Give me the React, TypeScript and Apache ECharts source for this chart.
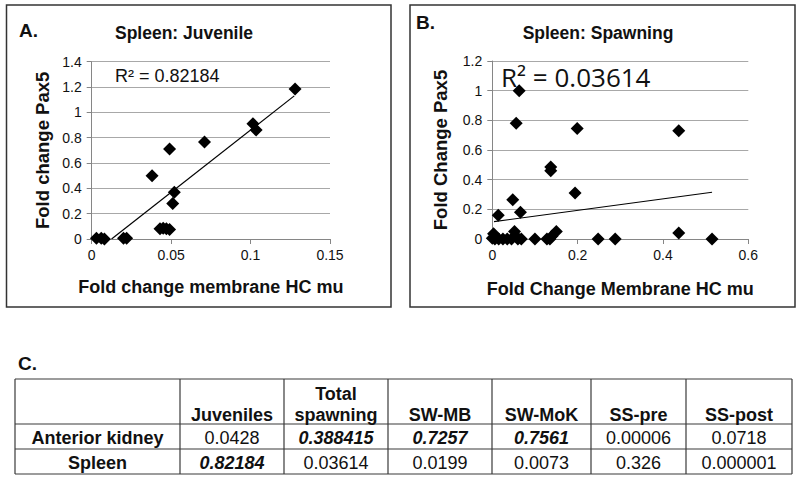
import React, { useEffect, useRef } from "react";
import * as echarts from "echarts";

// ---- Panel A: Spleen, juvenile ----
const juvenileMembraneHC = [0.003, 0.006, 0.008, 0.02, 0.022, 0.038, 0.043, 0.045, 0.047, 0.049, 0.049, 0.051, 0.052, 0.071, 0.1015, 0.1035, 0.128];
const juvenilePax5 = [0.005, 0.005, 0.0, 0.005, 0.005, 0.5, 0.08, 0.085, 0.08, 0.075, 0.71, 0.28, 0.37, 0.765, 0.91, 0.86, 1.185];
const juvenileTrendX = [0.0125, 0.1275];
const juvenileTrendY = [0, 1.13];
const juvenileXTicks = [0, 0.05, 0.1, 0.15];
const juvenileYTicks = [0, 0.2, 0.4, 0.6, 0.8, 1, 1.2, 1.4];
const juvenileR2 = "R² = 0.82184";

// ---- Panel B: Spleen, spawning ----
const spawningMembraneHC = [0.0, 0.003, 0.006, 0.015, 0.025, 0.035, 0.045, 0.052, 0.055, 0.06, 0.068, 0.1, 0.128, 0.135, 0.14, 0.15, 0.248, 0.288, 0.437, 0.515, 0.014, 0.048, 0.066, 0.056, 0.063, 0.137, 0.137, 0.194, 0.199, 0.437];
const spawningPax5 = [0.005, 0.035, 0.0, 0.0, 0.0, 0.0, 0.0, 0.05, 0.02, 0.0, 0.0, 0.0, 0.0, 0.0, 0.02, 0.05, 0.0, 0.0, 0.04, 0.0, 0.16, 0.265, 0.18, 0.78, 1.0, 0.485, 0.46, 0.31, 0.745, 0.73];
const spawningTrendX = [0.004, 0.515];
const spawningTrendY = [0.117, 0.315];
const spawningXTicks = [0, 0.2, 0.4, 0.6];
const spawningYTicks = [0, 0.2, 0.4, 0.6, 0.8, 1, 1.2];
const spawningR2 = "R² = 0.03614";

// ---- Panel C: table of R² values ----
const tableColumns = ["Juveniles", "Total\nspawning", "SW-MB", "SW-MoK", "SS-pre", "SS-post"];
const tableRowLabels = ["Anterior kidney", "Spleen"];
const anteriorKidneyR2 = ["0.0428", "0.388415", "0.7257", "0.7561", "0.00006", "0.0718"];
const spleenR2 = ["0.82184", "0.03614", "0.0199", "0.0073", "0.326", "0.000001"];
const anteriorKidneyHighlight = [false, true, true, true, false, false];
const spleenHighlight = [true, false, false, false, false, false];

const FONT = "Liberation Sans";
const AXIS_COLOR = "#868686";
const GRID_COLOR = "#a8a8a8";
const TEXT_COLOR = "#111111";

function pairs(xs: number[], ys: number[]) {
  return xs.map((x, i) => [x, ys[i]]);
}

function makeXAxis(gridIndex: number, ticks: number[], name: string, nameGap: number) {
  return {
    type: "value",
    gridIndex,
    min: ticks[0],
    max: ticks[ticks.length - 1],
    interval: ticks[1] - ticks[0],
    name,
    nameLocation: "middle",
    nameGap,
    nameTextStyle: { fontFamily: FONT, fontSize: 18, fontWeight: "bold", color: TEXT_COLOR },
    axisLine: { show: true, onZero: false, lineStyle: { color: AXIS_COLOR, width: 1 } },
    axisTick: { show: true, length: 5, lineStyle: { color: AXIS_COLOR } },
    axisLabel: { fontFamily: FONT, fontSize: 14, color: TEXT_COLOR, margin: 9 },
    splitLine: { show: false },
  };
}

function makeYAxis(gridIndex: number, ticks: number[], name: string, nameGap: number) {
  return {
    type: "value",
    gridIndex,
    min: ticks[0],
    max: ticks[ticks.length - 1],
    interval: ticks[1] - ticks[0],
    name,
    nameLocation: "middle",
    nameGap,
    nameTextStyle: { fontFamily: FONT, fontSize: 18.5, fontWeight: "bold", color: TEXT_COLOR },
    axisLine: { show: true, onZero: false, lineStyle: { color: AXIS_COLOR, width: 1 } },
    axisTick: { show: true, length: 5, lineStyle: { color: AXIS_COLOR } },
    axisLabel: { fontFamily: FONT, fontSize: 14, color: TEXT_COLOR, margin: 10 },
    splitLine: { show: true, lineStyle: { color: GRID_COLOR, width: 1 } },
  };
}

function buildTable() {
  const colEdges = [15, 180, 284, 388, 492, 591, 686, 792];
  const rowEdges = [379, 424, 449, 474];
  const els: any[] = [];
  const lineStyle = { stroke: "#3a3a3a", lineWidth: 1.2 };
  rowEdges.forEach((y) => {
    els.push({ type: "line", shape: { x1: colEdges[0], y1: y, x2: colEdges[colEdges.length - 1], y2: y }, style: lineStyle });
  });
  colEdges.forEach((x) => {
    els.push({ type: "line", shape: { x1: x, y1: rowEdges[0], x2: x, y2: rowEdges[rowEdges.length - 1] }, style: lineStyle });
  });
  tableColumns.forEach((label, i) => {
    els.push({
      type: "text",
      x: (colEdges[i + 1] + colEdges[i + 2]) / 2,
      y: rowEdges[1] + 1,
      style: {
        text: label,
        fontFamily: FONT,
        fontSize: 18,
        fontWeight: "bold",
        fill: TEXT_COLOR,
        align: "center",
        verticalAlign: "bottom",
        lineHeight: 21,
      },
    });
  });
  const rows = [anteriorKidneyR2, spleenR2];
  const highlights = [anteriorKidneyHighlight, spleenHighlight];
  tableRowLabels.forEach((label, r) => {
    const cy = (rowEdges[r + 1] + rowEdges[r + 2]) / 2 + 1;
    els.push({
      type: "text",
      x: (colEdges[0] + colEdges[1]) / 2,
      y: cy,
      style: { text: label, fontFamily: FONT, fontSize: 18, fontWeight: "bold", fill: TEXT_COLOR, align: "center", verticalAlign: "middle" },
    });
    rows[r].forEach((val, c) => {
      const hi = highlights[r][c];
      els.push({
        type: "text",
        x: (colEdges[c + 1] + colEdges[c + 2]) / 2,
        y: cy,
        style: {
          text: val,
          fontFamily: FONT,
          fontSize: 18,
          fontWeight: hi ? "bold" : "normal",
          fontStyle: hi ? "italic" : "normal",
          fill: TEXT_COLOR,
          align: "center",
          verticalAlign: "middle",
        },
      });
    });
  });
  return els;
}

export default function App() {
  const ref = useRef<HTMLDivElement>(null);
  useEffect(() => {
    if (!ref.current) return;
    const chart = echarts.init(ref.current, null, { renderer: "svg", width: 800, height: 480 });
    const scatterStyle = { color: "#000000", opacity: 1 };
    const option: any = {
      animation: false,
      backgroundColor: "#ffffff",
      textStyle: { fontFamily: FONT },
      grid: [
        { left: 91.7, top: 61.7, width: 238.3, height: 177.3 },
        { left: 492.3, top: 61, width: 256, height: 178 },
      ],
      xAxis: [
        makeXAxis(0, juvenileXTicks, "Fold change membrane HC mu", 39),
        makeXAxis(1, spawningXTicks, "Fold Change Membrane HC mu", 41),
      ],
      yAxis: [
        makeYAxis(0, juvenileYTicks, "Fold change Pax5", 40),
        makeYAxis(1, spawningYTicks, "Fold Change Pax5", 42),
      ],
      series: [
        {
          type: "scatter",
          xAxisIndex: 0,
          yAxisIndex: 0,
          data: pairs(juvenileMembraneHC, juvenilePax5),
          symbol: "diamond",
          symbolSize: 13,
          itemStyle: scatterStyle,
          silent: true,
        },
        {
          type: "line",
          xAxisIndex: 0,
          yAxisIndex: 0,
          data: pairs(juvenileTrendX, juvenileTrendY),
          showSymbol: false,
          symbol: "none",
          lineStyle: { color: "#000000", width: 1.2 },
          silent: true,
        },
        {
          type: "scatter",
          xAxisIndex: 1,
          yAxisIndex: 1,
          data: pairs(spawningMembraneHC, spawningPax5),
          symbol: "diamond",
          symbolSize: 13,
          itemStyle: scatterStyle,
          silent: true,
        },
        {
          type: "line",
          xAxisIndex: 1,
          yAxisIndex: 1,
          data: pairs(spawningTrendX, spawningTrendY),
          showSymbol: false,
          symbol: "none",
          lineStyle: { color: "#000000", width: 1.2 },
          silent: true,
        },
      ],
      graphic: [
        { type: "rect", shape: { x: 6.5, y: 5, width: 384.5, height: 302 }, style: { fill: "none", stroke: "#333333", lineWidth: 1.5 }, silent: true },
        { type: "rect", shape: { x: 410, y: 5, width: 385, height: 302 }, style: { fill: "none", stroke: "#333333", lineWidth: 1.5 }, silent: true },
        { type: "text", x: 19, y: 30, style: { text: "A.", fontFamily: FONT, fontSize: 19, fontWeight: "bold", fill: TEXT_COLOR, verticalAlign: "middle" } },
        { type: "text", x: 416, y: 22, style: { text: "B.", fontFamily: FONT, fontSize: 19, fontWeight: "bold", fill: TEXT_COLOR, verticalAlign: "middle" } },
        { type: "text", x: 18, y: 363, style: { text: "C.", fontFamily: FONT, fontSize: 19, fontWeight: "bold", fill: TEXT_COLOR, verticalAlign: "middle" } },
        { type: "text", x: 184, y: 33, style: { text: "Spleen: Juvenile", fontFamily: FONT, fontSize: 17.5, fontWeight: "bold", fill: TEXT_COLOR, align: "center", verticalAlign: "middle" } },
        { type: "text", x: 598, y: 33, style: { text: "Spleen: Spawning", fontFamily: FONT, fontSize: 17.5, fontWeight: "bold", fill: TEXT_COLOR, align: "center", verticalAlign: "middle" } },
        { type: "text", x: 115, y: 76, style: { text: juvenileR2, fontFamily: FONT, fontSize: 18, fill: TEXT_COLOR, verticalAlign: "middle" } },
        { type: "text", x: 501, y: 77, style: { text: spawningR2, fontFamily: "Open Sans", fontSize: 26, fill: TEXT_COLOR, verticalAlign: "middle" } },
        ...buildTable(),
      ],
    };
    chart.setOption(option);
    return () => chart.dispose();
  }, []);
  return (
    <div
      ref={ref}
      style={{ position: "fixed", left: 0, top: 0, width: 800, height: 480, background: "#ffffff" }}
    />
  );
}
